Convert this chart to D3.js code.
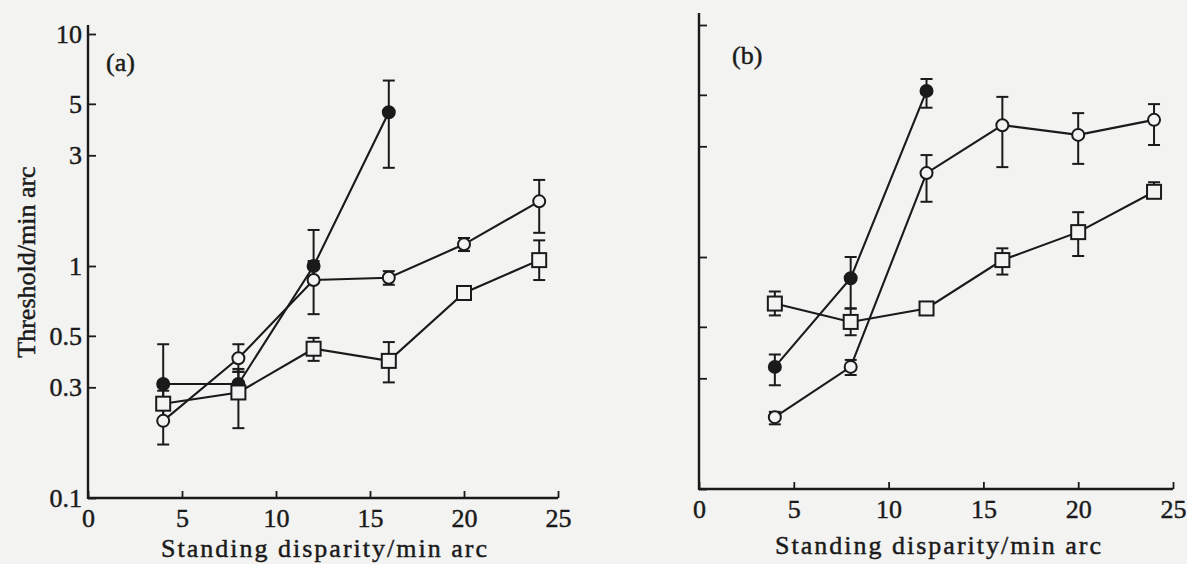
<!DOCTYPE html>
<html lang="en">
<head>
<meta charset="UTF-8">
<title>Threshold vs standing disparity</title>
<script src="https://cdn.jsdelivr.net/npm/d3@7"></script>
<style>
  body { margin: 0; background: #f3f3f2; }
  svg { display: block; }
  text { font-family: "Liberation Serif", "DejaVu Serif", serif; fill: #1a1a1a; stroke: #1a1a1a; stroke-width: 0.45; }
</style>
</head>
<body>
<script>
const W = 1187, H = 564

// standing disparity (min arc)
const disparity = [4, 8, 12, 16, 20, 24]
const xTicks = [0, 5, 10, 15, 20, 25]
const yTicks = [0.1, 0.3, 0.5, 1, 3, 5, 10]
const yTickLabels = ['0.1', '0.3', '0.5', '1', '3', '5', '10']

// panel (a)
const aFilled = [0.31, 0.31, 1.0, 4.6]
const aFilledLo = [0.26, 0.27, 0.87, 2.65]
const aFilledHi = [0.46, 0.36, 1.43, 6.3]
const aOpen = [0.215, 0.40, 0.87, 0.89, 1.24, 1.9]
const aOpenLo = [0.17, 0.35, 0.62, 0.83, 1.16, 1.39]
const aOpenHi = [0.26, 0.46, 1.05, 0.95, 1.32, 2.35]
const aSquare = [0.255, 0.285, 0.44, 0.39, 0.765, 1.06]
const aSquareLo = [0.22, 0.2, 0.39, 0.315, 0.72, 0.87]
const aSquareHi = [0.29, 0.35, 0.49, 0.47, 0.82, 1.29]

// panel (b)
const bFilled = [0.336, 0.81, 5.2]
const bFilledLo = [0.28, 0.6, 4.4]
const bFilledHi = [0.38, 1.0, 5.85]
const bOpen = [0.204, 0.336, 2.3, 3.7, 3.36, 3.9]
const bOpenLo = [0.19, 0.31, 1.73, 2.44, 2.52, 3.04]
const bOpenHi = [0.215, 0.36, 2.75, 4.9, 4.17, 4.56]
const bSquare = [0.63, 0.525, 0.60, 0.97, 1.28, 1.91]
const bSquareLo = [0.56, 0.46, 0.58, 0.84, 1.01, 1.8]
const bSquareHi = [0.71, 0.6, 0.62, 1.09, 1.56, 2.1]

const bg = '#f3f3f2'
const ink = '#1a1a1a'

const svg = d3.select('body').append('svg')
  .attr('width', W)
  .attr('height', H)

svg.append('rect').attr('width', W).attr('height', H).attr('fill', bg)

function toPoints(vals, lo, hi) {
  return vals.map((v, i) => ({ x: disparity[i], y: v, lo: lo[i], hi: hi[i] }))
}

function drawPanel(p) {
  const x = d3.scaleLinear().domain([0, 25]).range([p.x0, p.x1])
  const y = d3.scaleLog().domain([0.1, 10]).range([p.y0, p.y1])
  const g = svg.append('g')

  // x axis, ticks pointing up
  const xAxis = g.append('g')
    .attr('transform', `translate(0,${p.y0})`)
    .call(d3.axisBottom(x).tickValues(xTicks).tickSizeInner(-7).tickSizeOuter(0).tickPadding(11))
  xAxis.select('.domain').remove()
  xAxis.selectAll('.tick line').attr('stroke', ink).attr('stroke-width', 1.8)
  xAxis.selectAll('.tick text').attr('font-size', 26).attr('fill', ink)

  // y axis, ticks pointing right
  const yAxis = g.append('g')
    .attr('transform', `translate(${p.x0},0)`)
    .call(d3.axisLeft(y).tickValues(yTicks)
      .tickFormat((d, i) => p.yLabels ? yTickLabels[i] : '')
      .tickSizeInner(-8).tickSizeOuter(0).tickPadding(6))
  yAxis.select('.domain').remove()
  yAxis.selectAll('.tick line').attr('stroke', ink).attr('stroke-width', 1.8)
  yAxis.selectAll('.tick text').attr('font-size', 26).attr('fill', ink)

  // axis lines
  g.append('line').attr('x1', p.x0).attr('x2', p.x0).attr('y1', p.y0 + 1).attr('y2', p.yTop)
    .attr('stroke', ink).attr('stroke-width', 2.4)
  g.append('line').attr('x1', p.x0).attr('x2', x(25)).attr('y1', p.y0).attr('y2', p.y0)
    .attr('stroke', ink).attr('stroke-width', 2.4)

  const line = d3.line().x(d => x(d.x)).y(d => y(d.y))

  p.series.forEach(s => {
    g.append('path').datum(s.pts)
      .attr('d', line)
      .attr('fill', 'none')
      .attr('stroke', ink)
      .attr('stroke-width', 2.1)
  })

  p.series.forEach(s => {
    const eg = g.append('g').attr('stroke', ink).attr('stroke-width', 2)
    s.pts.forEach(d => {
      eg.append('line').attr('x1', x(d.x)).attr('x2', x(d.x)).attr('y1', y(d.lo)).attr('y2', y(d.hi))
      eg.append('line').attr('x1', x(d.x) - 6).attr('x2', x(d.x) + 6).attr('y1', y(d.lo)).attr('y2', y(d.lo))
      eg.append('line').attr('x1', x(d.x) - 6).attr('x2', x(d.x) + 6).attr('y1', y(d.hi)).attr('y2', y(d.hi))
    })
  })

  p.series.forEach(s => {
    const mg = g.append('g')
    s.pts.forEach(d => {
      if (s.shape === 'square') {
        mg.append('rect')
          .attr('x', x(d.x) - 7).attr('y', y(d.y) - 7)
          .attr('width', 14).attr('height', 14)
          .attr('fill', bg).attr('stroke', ink).attr('stroke-width', 2)
      } else {
        mg.append('circle')
          .attr('cx', x(d.x)).attr('cy', y(d.y)).attr('r', 6)
          .attr('fill', s.shape === 'filled' ? ink : bg)
          .attr('stroke', ink).attr('stroke-width', 2)
      }
    })
  })

  g.append('text')
    .attr('x', p.labelX).attr('y', p.labelY)
    .attr('font-size', 26)
    .text(p.label)

  g.append('text')
    .attr('x', (p.x0 + p.x1) / 2 + p.titleDx).attr('y', p.titleY)
    .attr('text-anchor', 'middle')
    .attr('font-size', 26)
    .attr('letter-spacing', 2)
    .text('Standing disparity/min arc')
}

drawPanel({
  x0: 88, x1: 558, y0: 498, y1: 34, yTop: 25,
  yLabels: true, label: '(a)', labelX: 106, labelY: 71,
  titleY: 557, titleDx: 2,
  series: [
    { shape: 'filled', pts: toPoints(aFilled, aFilledLo, aFilledHi) },
    { shape: 'open', pts: toPoints(aOpen, aOpenLo, aOpenHi) },
    { shape: 'square', pts: toPoints(aSquare, aSquareLo, aSquareHi) }
  ]
})

drawPanel({
  x0: 699, x1: 1173, y0: 489, y1: 25, yTop: 13,
  yLabels: false, label: '(b)', labelX: 732, labelY: 64,
  titleY: 554, titleDx: 3,
  series: [
    { shape: 'filled', pts: toPoints(bFilled, bFilledLo, bFilledHi) },
    { shape: 'open', pts: toPoints(bOpen, bOpenLo, bOpenHi) },
    { shape: 'square', pts: toPoints(bSquare, bSquareLo, bSquareHi) }
  ]
})

svg.append('text')
  .attr('transform', 'translate(35,262) rotate(-90)')
  .attr('text-anchor', 'middle')
  .attr('font-size', 26)
  .text('Threshold/min arc')
</script>
</body>
</html>
